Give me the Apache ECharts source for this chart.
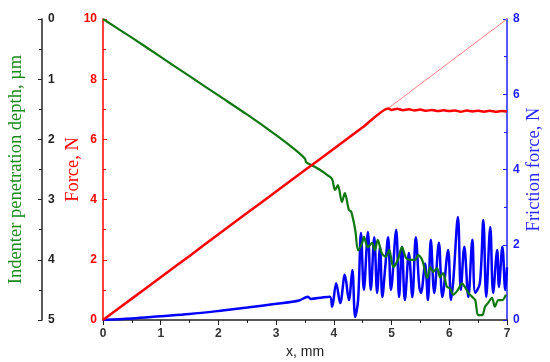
<!DOCTYPE html>
<html>
<head>
<meta charset="utf-8">
<script src="https://cdn.jsdelivr.net/npm/echarts@6/dist/echarts.min.js"></script>
<style>html,body{margin:0;padding:0;background:#fff;}#chart{width:550px;height:362px;}</style>
</head>
<body>
<div id="chart"></div>
<script>
// x positions in mm and values
var forceX = [0, 0.5, 1, 1.5, 2, 2.5, 3, 3.5, 4, 4.5, 4.94, 5.0, 5.1, 5.2, 5.3, 5.4, 5.5, 5.6, 5.7, 5.8, 5.9, 6.0, 6.1, 6.2, 6.3, 6.4, 6.5, 6.6, 6.7, 6.8, 6.9, 7.0];
var forceY = [0, 0.71, 1.42, 2.13, 2.85, 3.56, 4.27, 4.98, 5.69, 6.4, 7.03, 6.98, 7.02, 6.97, 7.0, 6.96, 6.99, 6.95, 6.98, 6.94, 6.97, 6.94, 6.96, 6.92, 6.96, 6.93, 6.95, 6.92, 6.95, 6.92, 6.94, 6.93];
var forceExtX = [4.94, 7.0];
var forceExtY = [7.03, 10];

var depthX = [0, 0.5, 1, 1.5, 2, 2.5, 3, 3.3, 3.5, 3.52, 3.6, 3.75, 3.9, 3.97, 4.02, 4.07, 4.14, 4.19, 4.26, 4.3, 4.37, 4.42, 4.49, 4.52, 4.59, 4.66, 4.71, 4.76, 4.83, 4.9, 4.96, 5.03, 5.11, 5.18, 5.25, 5.32, 5.41, 5.46, 5.53, 5.62, 5.67, 5.72, 5.79, 5.84, 5.89, 5.96, 6.01, 6.07, 6.15, 6.22, 6.27, 6.33, 6.4, 6.45, 6.5, 6.57, 6.62, 6.67, 6.74, 6.79, 6.85, 6.92, 6.98];
var depthY = [0, 0.31, 0.63, 0.95, 1.27, 1.59, 1.93, 2.15, 2.32, 2.38, 2.42, 2.5, 2.6, 2.66, 2.84, 2.76, 3.04, 2.89, 3.17, 3.2, 3.5, 3.84, 3.72, 3.62, 3.79, 3.72, 3.84, 3.67, 3.89, 3.95, 3.84, 4.12, 4.0, 3.79, 3.97, 4.0, 4.0, 3.92, 4.0, 4.3, 4.12, 4.2, 4.14, 4.29, 4.22, 4.45, 4.47, 4.58, 4.5, 4.39, 4.45, 4.55, 4.62, 4.67, 4.92, 4.92, 4.78, 4.72, 4.63, 4.78, 4.67, 4.67, 4.58];

var frictionX = [0, 0.5, 1, 1.5, 2, 2.5, 3, 3.4, 3.55, 3.6, 3.8, 3.93, 3.97, 4.04, 4.11, 4.19, 4.26, 4.32, 4.37, 4.42, 4.47, 4.52, 4.59, 4.64, 4.7, 4.75, 4.8, 4.84, 4.89, 4.94, 4.99, 5.08, 5.13, 5.18, 5.23, 5.3, 5.36, 5.42, 5.48, 5.51, 5.58, 5.63, 5.68, 5.74, 5.82, 5.88, 5.98, 6.03, 6.07, 6.15, 6.2, 6.26, 6.33, 6.4, 6.45, 6.53, 6.59, 6.64, 6.71, 6.76, 6.83, 6.86, 6.92, 6.97, 7.0];
var frictionY = [0, 0.04, 0.1, 0.16, 0.24, 0.33, 0.43, 0.52, 0.62, 0.56, 0.6, 0.62, 0.35, 0.98, 0.45, 1.2, 0.53, 1.33, 0.08, 0.53, 2.31, 0.8, 2.34, 0.8, 2.2, 0.72, 1.95, 0.61, 1.4, 2.2, 0.8, 2.4, 0.61, 1.95, 0.53, 1.78, 0.61, 2.2, 0.88, 0.72, 1.5, 0.53, 2.13, 0.72, 2.05, 0.61, 1.86, 0.53, 1.06, 2.74, 0.8, 1.95, 0.61, 2.13, 0.72, 0.98, 2.66, 0.61, 2.47, 0.72, 1.86, 0.88, 1.95, 0.8, 1.4];

var xTicks = [0, 1, 2, 3, 4, 5, 6, 7];

function pairs(xs, ys) { return xs.map(function (x, i) { return [x, ys[i]]; }); }

var chart = echarts.init(document.getElementById('chart'), null, { renderer: 'canvas' });
var lab = { fontFamily: 'Arial, "Liberation Sans", sans-serif', fontSize: 12, fontWeight: 'bold' };
var ttl = { fontFamily: '"Times New Roman", "Liberation Serif", serif', fontSize: 18.5 };

chart.setOption({
  animation: false,
  grid: { left: 103, right: 43, top: 19, bottom: 42, containLabel: false, outerBoundsMode: 'none' },
  xAxis: {
    type: 'value', min: 0, max: 7, interval: 1,
    name: 'x, mm', nameLocation: 'middle', nameGap: 25, nameMoveOverlap: false,
    nameTextStyle: { fontFamily: 'Arial, "Liberation Sans", sans-serif', fontSize: 14, color: '#222' },
    axisLine: { show: true, lineStyle: { color: '#222', width: 1.5 } },
    axisTick: { show: true, inside: false, length: 5, lineStyle: { color: '#222' } },
    minorTick: { show: true, splitNumber: 2, length: 3, lineStyle: { color: '#222' } },
    splitLine: { show: false },
    axisLabel: Object.assign({ color: '#333', margin: 8, formatter: function (v) { return xTicks.indexOf(v) >= 0 ? String(v) : ''; } }, lab)
  },
  yAxis: [
    {
      type: 'value', min: 0, max: 10, interval: 2, position: 'left',
      name: 'Force, N', nameLocation: 'middle', nameGap: 20, nameRotate: 90, nameMoveOverlap: false,
      nameTextStyle: Object.assign({ color: '#f00' }, ttl),
      axisLine: { show: true, lineStyle: { color: '#f00', width: 1.5 } },
      axisTick: { show: true, inside: true, length: 4, lineStyle: { color: '#f00' } },
      minorTick: { show: true, splitNumber: 2, length: 3, lineStyle: { color: '#f00' } },
      splitLine: { show: false },
      axisLabel: Object.assign({ color: '#f00', margin: 6 }, lab)
    },
    {
      type: 'value', min: 0, max: 5, interval: 1, position: 'left', offset: 61, inverse: true,
      name: 'Indenter penetration depth, µm', nameLocation: 'middle', nameGap: 16, nameRotate: 90, nameMoveOverlap: false,
      nameTextStyle: Object.assign({ color: '#1a8a1a' }, ttl),
      axisLine: { show: true, lineStyle: { color: '#222', width: 1.5 } },
      axisTick: { show: true, inside: false, length: 4, lineStyle: { color: '#222' } },
      minorTick: { show: true, splitNumber: 2, length: 3, lineStyle: { color: '#222' } },
      splitLine: { show: false },
      axisLabel: Object.assign({ color: '#222', inside: true, margin: 6 }, lab)
    },
    {
      type: 'value', min: 0, max: 8, interval: 2, position: 'right',
      name: 'Friction force, N', nameLocation: 'middle', nameGap: 18, nameRotate: 90, nameMoveOverlap: false,
      nameTextStyle: Object.assign({ color: '#2b2bff' }, ttl),
      axisLine: { show: true, lineStyle: { color: '#2020ff', width: 1.5 } },
      axisTick: { show: true, inside: true, length: 4, lineStyle: { color: '#2020ff' } },
      minorTick: { show: true, splitNumber: 2, length: 3, lineStyle: { color: '#2020ff' } },
      splitLine: { show: false },
      axisLabel: Object.assign({ color: '#2020ff', margin: 6 }, lab)
    }
  ],
  series: [
    { type: 'line', yAxisIndex: 0, data: pairs(forceExtX, forceExtY), showSymbol: false, lineStyle: { color: '#ff8080', width: 1 }, z: 1 },
    { type: 'line', yAxisIndex: 2, data: pairs(frictionX, frictionY), showSymbol: false, smooth: 0.35, lineStyle: { color: '#0000ff', width: 2.5 }, z: 2 },
    { type: 'line', yAxisIndex: 1, data: pairs(depthX, depthY), showSymbol: false, smooth: 0.3, lineStyle: { color: '#107810', width: 2.2 }, z: 3 },
    { type: 'line', yAxisIndex: 0, data: pairs(forceX, forceY), showSymbol: false, smooth: 0.2, lineStyle: { color: '#ff0000', width: 2.5 }, z: 4 }
  ]
});
</script>
</body>
</html>
